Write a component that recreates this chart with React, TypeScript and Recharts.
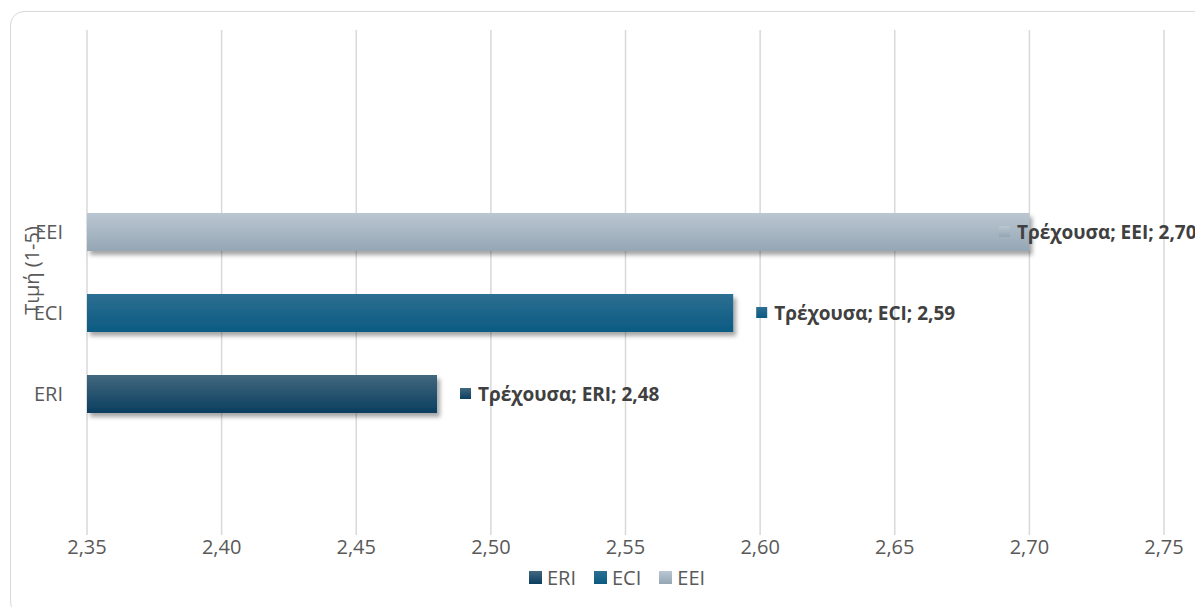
import { BarChart, Bar, XAxis, YAxis, CartesianGrid, Legend, LabelList, Label } from 'recharts'

const categories = ['ERI', 'ECI', 'EEI']
const values = [2.48, 2.59, 2.7]
const seriesName = 'Τρέχουσα'
const xTicks = [2.35, 2.4, 2.45, 2.5, 2.55, 2.6, 2.65, 2.7, 2.75]
const axisTitle = 'Τιμή (1-5)'

const FONT = '"Open Sans", "Noto Sans", sans-serif'
const TEXT = '#595959'
const CHART_W = 1195
const CHART_H = 600

// top / bottom colours of each bar's vertical gradient
const FILLS: Record<string, [string, string]> = {
  ERI: ['#43687f', '#0a3e5f'],
  ECI: ['#2d6f92', '#0b5a82'],
  EEI: ['#bac7d2', '#95a6b4'],
}

const fmt = (v: number) => v.toFixed(2).replace('.', ',')

// Excel draws the top category first, so the rows go in reverse
const data = categories
  .map((cat, i) => ({ cat, value: values[i], label: `${seriesName}; ${cat}; ${fmt(values[i])}` }))
  .reverse()

const BarShape = (props: any) => {
  const { x, y, width, height, payload } = props
  return (
    <rect
      x={x}
      y={y}
      width={width}
      height={height}
      fill={`url(#grad-${payload.cat})`}
      filter="url(#barShadow)"
    />
  )
}

const renderLabel = (props: any) => {
  const { x, y, width, height, value } = props
  const cat = String(value).split('; ')[1]
  // labels that would run off the chart get pulled back inside
  const start = Math.min(x + width + 23, CHART_W - 207)
  const cy = y + height / 2
  return (
    <g>
      <rect x={start} y={cy - 6} width={11} height={11} fill={`url(#grad-${cat})`} />
      <text
        x={start + 18}
        y={cy}
        dominantBaseline="central"
        fontFamily={FONT}
        fontSize={19}
        fontWeight={700}
        fill="#404040"
      >
        {value}
      </text>
    </g>
  )
}

const renderTitle = (props: any) => {
  const vb = props.viewBox
  const x = vb.x + 20
  const y = vb.y + vb.height / 2 - 12
  return (
    <text
      x={x}
      y={y}
      transform={`rotate(-90, ${x}, ${y})`}
      textAnchor="middle"
      dominantBaseline="central"
      fontFamily={FONT}
      fontSize={20}
      fill={TEXT}
    >
      {axisTitle}
    </text>
  )
}

const renderLegend = () => (
  <div
    style={{
      display: 'flex',
      justifyContent: 'center',
      alignItems: 'center',
      gap: 18,
      height: 26,
      paddingLeft: 59,
      fontFamily: FONT,
      fontSize: 20,
      color: TEXT,
    }}
  >
    {categories.map((c) => (
      <div key={c} style={{ display: 'flex', alignItems: 'center', gap: 5 }}>
        <div
          style={{
            width: 13,
            height: 13,
            background: `linear-gradient(${FILLS[c][0]}, ${FILLS[c][1]})`,
          }}
        />
        <span>{c}</span>
      </div>
    ))}
  </div>
)

export default function App() {
  return (
    <div style={{ width: 1195, height: 599, overflow: 'hidden', fontFamily: FONT }}>
      <div
        style={{
          margin: '3px 0 0 2px',
          width: 1197,
          height: 605,
          border: '1px solid #d9d9d9',
          borderRadius: 14,
          boxSizing: 'border-box',
          background: '#fff',
          overflow: 'hidden',
        }}
      >
        <BarChart
          width={CHART_W}
          height={CHART_H}
          data={data}
          layout="vertical"
          margin={{ top: 18, right: 42, bottom: 22, left: 0 }}
          barSize={38}
        >
          <defs>
            {categories.map((c) => (
              <linearGradient key={c} id={`grad-${c}`} x1="0" y1="0" x2="0" y2="1">
                <stop offset="0%" stopColor={FILLS[c][0]} />
                <stop offset="100%" stopColor={FILLS[c][1]} />
              </linearGradient>
            ))}
            <filter id="barShadow" x="-5%" y="-30%" width="115%" height="180%">
              <feDropShadow dx="3" dy="4" stdDeviation="2" floodColor="#000" floodOpacity="0.35" />
            </filter>
          </defs>

          <CartesianGrid horizontal={false} stroke="#d9d9d9" strokeWidth={1.5} />

          <XAxis
            type="number"
            domain={[2.35, 2.75]}
            ticks={xTicks}
            tickFormatter={fmt}
            axisLine={false}
            tickLine={false}
            tickSize={0}
            tickMargin={5}
            height={29}
            interval={0}
            tick={{ fontSize: 20, fill: TEXT, fontFamily: FONT }}
          />

          <YAxis
            type="category"
            dataKey="cat"
            width={76}
            axisLine={false}
            tickLine={false}
            tickSize={0}
            tickMargin={24}
            padding={{ top: 161, bottom: 101 }}
            tick={{ fontSize: 20, fill: TEXT, fontFamily: FONT }}
          >
            <Label content={renderTitle} />
          </YAxis>

          <Legend verticalAlign="bottom" content={renderLegend} />

          <Bar dataKey="value" shape={BarShape} isAnimationActive={false}>
            <LabelList dataKey="label" content={renderLabel} />
          </Bar>
        </BarChart>
      </div>
    </div>
  )
}
